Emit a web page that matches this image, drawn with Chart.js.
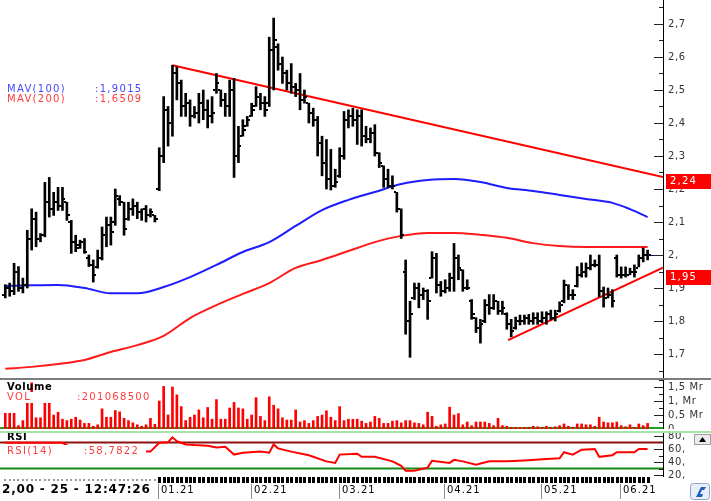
<!DOCTYPE html>
<html>
<head>
<meta charset="utf-8">
<title>Fiyat grafiği</title>
<script src="https://cdn.jsdelivr.net/npm/chart.js@4.4.1/dist/chart.umd.min.js"></script>
<style>
  html, body { margin: 0; padding: 0; background: #fff; }
  #wrap { position: relative; width: 711px; height: 501px; overflow: hidden; background: #fff; }
  #wrap canvas { position: absolute; left: 0; }
  .rule { position: absolute; left: 0; width: 711px; }
</style>
</head>
<body>
<div id="wrap">
  <canvas id="price" width="711" height="378" style="top:0"></canvas>
  <canvas id="volume" width="711" height="49" style="top:380px"></canvas>
  <canvas id="rsi" width="711" height="70" style="top:431px"></canvas>
  <div class="rule" style="top:378px;height:2px;background:#7d7d7d"></div>
  <div class="rule" style="top:431px;height:2px;background:#a8e4a8"></div>
</div>
<script>
// daily bars, index 0 = first bar on the left
const hi = [1.91,1.915,1.975,1.965,1.93,2.075,2.14,2.13,2.065,2.22,
  2.235,2.19,2.205,2.205,2.16,2.105,2.06,2.045,2.05,2.00,
  1.985,2.015,2.085,2.115,2.115,2.20,2.18,2.16,2.16,2.17,
  2.16,2.14,2.15,2.14,2.12,2.325,2.48,2.45,2.575,2.57,
  2.53,2.49,2.47,2.45,2.49,2.50,2.47,2.48,2.55,2.50,
  2.49,2.53,2.535,2.39,2.41,2.42,2.46,2.51,2.49,2.48,
  2.66,2.718,2.64,2.60,2.56,2.58,2.52,2.55,2.50,2.46,
  2.445,2.42,2.36,2.35,2.32,2.26,2.325,2.435,2.44,2.445,
  2.44,2.44,2.39,2.385,2.395,2.31,2.27,2.26,2.24,2.19,
  2.14,1.985,1.86,1.915,1.915,1.90,1.895,2.01,2.005,1.92,
  1.925,1.945,2.035,2.00,1.955,1.925,1.865,1.81,1.805,1.865,
  1.88,1.88,1.86,1.86,1.825,1.805,1.812,1.818,1.818,1.82,
  1.825,1.825,1.828,1.828,1.833,1.833,1.858,1.924,1.91,1.895,
  1.965,1.976,1.976,2.00,1.985,2.00,1.903,1.90,1.895,2.00,
  1.964,1.964,1.96,1.97,2.00,2.021,2.015];
const lo = [1.87,1.875,1.88,1.89,1.885,1.90,2.015,2.025,2.04,2.055,
  2.115,2.12,2.135,2.135,2.105,2.005,2.01,2.02,2.005,1.965,
  1.918,1.96,1.985,2.025,2.03,2.09,2.15,2.06,2.105,2.12,
  2.11,2.105,2.10,2.115,2.10,2.195,2.28,2.33,2.36,2.47,
  2.42,2.42,2.39,2.415,2.40,2.41,2.385,2.40,2.49,2.45,
  2.42,2.42,2.235,2.28,2.36,2.39,2.42,2.45,2.44,2.42,
  2.45,2.50,2.56,2.52,2.50,2.49,2.48,2.44,2.46,2.40,
  2.39,2.30,2.24,2.20,2.197,2.205,2.235,2.29,2.385,2.39,
  2.335,2.33,2.34,2.34,2.30,2.265,2.205,2.205,2.20,2.13,
  2.05,1.76,1.69,1.865,1.84,1.865,1.805,1.93,1.885,1.875,
  1.885,1.89,1.89,1.925,1.89,1.895,1.805,1.765,1.733,1.795,
  1.82,1.835,1.82,1.82,1.775,1.752,1.775,1.788,1.79,1.79,
  1.79,1.79,1.795,1.79,1.803,1.80,1.827,1.855,1.865,1.865,
  1.903,1.933,1.933,1.955,1.964,1.873,1.842,1.87,1.842,1.933,
  1.93,1.933,1.94,1.933,1.964,1.979,1.985];
const op = [1.88,1.90,1.89,1.95,1.90,1.91,2.05,2.11,2.05,2.06,
  2.16,2.14,2.16,2.15,2.16,2.10,2.04,2.03,2.04,1.99,
  1.97,1.965,1.99,2.06,2.09,2.10,2.17,2.16,2.11,2.14,
  2.15,2.13,2.14,2.12,2.12,2.20,2.30,2.44,2.40,2.55,
  2.52,2.45,2.46,2.42,2.43,2.46,2.44,2.42,2.50,2.50,
  2.47,2.45,2.50,2.30,2.36,2.39,2.42,2.45,2.48,2.46,
  2.46,2.62,2.63,2.58,2.55,2.52,2.51,2.50,2.47,2.46,
  2.43,2.41,2.34,2.28,2.23,2.21,2.24,2.30,2.41,2.42,
  2.41,2.42,2.36,2.35,2.37,2.31,2.27,2.23,2.21,2.19,
  2.14,1.95,1.80,1.87,1.90,1.88,1.89,1.93,1.99,1.91,
  1.89,1.90,1.93,1.99,1.955,1.90,1.86,1.81,1.78,1.80,
  1.85,1.84,1.86,1.83,1.82,1.79,1.78,1.80,1.80,1.81,
  1.80,1.81,1.80,1.81,1.82,1.81,1.83,1.86,1.91,1.88,
  1.905,1.94,1.95,1.96,1.97,1.97,1.89,1.87,1.88,1.99,
  1.94,1.94,1.94,1.95,1.96,1.99,2.00];
const cl = [1.90,1.89,1.95,1.90,1.91,2.05,2.11,2.05,2.06,2.16,
  2.14,2.16,2.15,2.17,2.12,2.04,2.02,2.04,2.01,1.97,
  1.94,1.99,2.06,2.09,2.07,2.18,2.16,2.08,2.14,2.15,
  2.13,2.14,2.12,2.13,2.11,2.30,2.44,2.40,2.55,2.52,
  2.45,2.46,2.42,2.43,2.46,2.44,2.42,2.43,2.52,2.47,
  2.45,2.50,2.30,2.33,2.38,2.41,2.44,2.48,2.46,2.44,
  2.62,2.65,2.58,2.55,2.52,2.51,2.50,2.47,2.48,2.43,
  2.41,2.34,2.28,2.23,2.21,2.22,2.30,2.41,2.42,2.41,
  2.42,2.36,2.35,2.37,2.31,2.28,2.23,2.21,2.21,2.14,
  2.06,1.80,1.82,1.90,1.88,1.89,1.86,1.99,1.91,1.89,
  1.90,1.93,1.99,1.96,1.90,1.90,1.82,1.78,1.79,1.85,
  1.84,1.86,1.83,1.84,1.79,1.77,1.80,1.80,1.81,1.80,
  1.81,1.80,1.81,1.82,1.81,1.82,1.85,1.91,1.88,1.88,
  1.94,1.95,1.96,1.97,1.97,1.89,1.87,1.88,1.86,1.94,
  1.94,1.94,1.95,1.95,1.99,2.00,2.00];
// volume in Mr (milyar)
const volume = [0.56,0.56,0.56,0.12,0.3,0.97,1.65,0.4,0.4,0.97,
  0.97,0.5,0.6,0.35,0.3,0.35,0.42,0.32,0.2,0.2,
  0.1,0.15,0.72,0.42,0.42,0.66,0.61,0.38,0.3,0.22,
  0.15,0.1,0.15,0.38,0.17,1.0,1.52,0.5,1.5,1.22,
  0.8,0.3,0.42,0.5,0.68,0.4,0.77,0.35,1.05,0.35,
  0.35,0.75,0.95,0.75,0.72,0.35,0.5,1.12,0.45,0.3,
  1.15,0.85,0.72,0.4,0.32,0.32,0.68,0.25,0.3,0.2,
  0.3,0.45,0.5,0.65,0.42,0.3,0.8,0.3,0.35,0.35,
  0.35,0.28,0.2,0.25,0.45,0.38,0.2,0.2,0.28,0.3,
  0.22,0.3,0.3,0.22,0.2,0.15,0.6,0.45,0.1,0.15,
  0.18,0.78,0.5,0.55,0.15,0.25,0.12,0.25,0.25,0.25,
  0.2,0.12,0.38,0.12,0.1,0.06,0.06,0.06,0.06,0.06,
  0.1,0.08,0.06,0.1,0.06,0.08,0.12,0.18,0.1,0.06,
  0.18,0.18,0.15,0.15,0.1,0.42,0.25,0.22,0.22,0.25,
  0.12,0.08,0.15,0.06,0.18,0.12,0.2];

const maIdx = [0,6,12,18,24,30,36,42,48,54,60,66,72,78,84,90,96,102,108,114,120,126,132,138,142,146];
const mav100 = [1.906,1.908,1.909,1.900,1.884,1.884,1.903,1.933,1.970,2.009,2.039,2.088,2.136,2.167,2.191,2.215,2.227,2.230,2.221,2.203,2.194,2.182,2.170,2.158,2.139,2.115];
const mav200 = [1.655,1.661,1.670,1.682,1.706,1.727,1.755,1.809,1.848,1.882,1.915,1.961,1.985,2.012,2.039,2.058,2.067,2.067,2.061,2.052,2.036,2.027,2.024,2.024,2.024,2.024];

const downTrend = [{x: 38, y: 2.575}, {x: 149.5, y: 2.236}];
const upTrend = [{x: 114.3, y: 1.742}, {x: 149.5, y: 1.962}];
const tagValues = [2.24, 1.95];

const rsiIdx = [0,13,18,20,31,33,35,37,38,39,41,43,46,48,50,52,54,58,60,61,62,65,69,73,75,76,80,81,84,88,90,91,93,96,97,101,102,104,107,110,114,118,123,126,127,129,131,134,135,138,139,143,144,146];
const rsiVals = [69.5,69.5,50.5,50.5,56,56,69.5,70.5,78,72,67,66,65,62.4,63.3,51.4,54.3,56,54.3,67,61,56,50.5,41,38.6,51.4,52.8,48,48,41,34,26.7,26.7,31.4,42,38.6,43.3,41,36,41,41,42.4,44.8,45.7,55,51.4,59,60,48,50.5,55,55,60,60];
const rsiLevels = [70, 30];

const monthStarts = [35, 56, 76, 100, 122, 140];
const monthLabels = ['01.21', '02.21', '03.21', '04.21', '05.21', '06.21'];

const X_MIN = -1.2, X_MAX = 149.5;
Chart.defaults.font.family = 'DejaVu Sans';

function isStep(v, s) { return Math.abs(v / s - Math.round(v / s)) < 1e-6; }
function fmtTr(v) {
  const s = String(Math.round(v * 100) / 100).replace('.', ',');
  return s.indexOf(',') < 0 ? s + ',' : s;
}

function xAxis() {
  return { type: 'linear', min: X_MIN, max: X_MAX, offset: false, display: false };
}
function yAxis(min, max, step, major, fmt) {
  return {
    position: 'right', min: min, max: max, beginAtZero: false,
    grid: { display: false, drawTicks: false, tickLength: 0 },
    border: { display: true, color: '#000', width: 1 },
    ticks: {
      stepSize: step, includeBounds: false, autoSkip: false, padding: 5, color: '#333',
      font: { size: 10 },
      callback: v => isStep(v, major) ? fmt(v) : ''
    },
    afterFit: s => { s.width = 48; s.paddingTop = 0; s.paddingBottom = 0; }
  };
}

function innerTicks(chart, major) {
  const s = chart.scales.y, ctx = chart.ctx, x0 = chart.chartArea.right;
  ctx.save();
  ctx.strokeStyle = '#222';
  ctx.lineWidth = 1;
  s.ticks.forEach(t => {
    const y = Math.round(s.getPixelForValue(t.value)) + 0.5;
    const len = isStep(t.value, major) ? 9 : 4;
    ctx.beginPath();
    ctx.moveTo(x0 - len, y);
    ctx.lineTo(x0, y);
    ctx.stroke();
  });
  ctx.restore();
}

function text(ctx, s, x, y, color, font, spacing) {
  ctx.save();
  ctx.font = font;
  ctx.letterSpacing = spacing || '0px';
  ctx.textBaseline = 'middle';
  ctx.textAlign = 'left';
  ctx.fillStyle = color;
  ctx.fillText(s, x, y);
  ctx.restore();
}

const spacedLabels = {
  id: 'spacedLabels',
  beforeDraw(chart) { chart.ctx.letterSpacing = '0.6px'; },
  afterDraw(chart) { chart.ctx.letterSpacing = '0px'; }
};

const pricePlugin = {
  id: 'priceExtras',
  afterDatasetsDraw(chart) {
    const ctx = chart.ctx, ys = chart.scales.y, xs = chart.scales.x;
    const meta = chart.getDatasetMeta(0);
    ctx.save();
    ctx.fillStyle = '#000';
    meta.data.forEach((bar, i) => {
      const x = Math.round(bar.x);
      const yo = Math.round(ys.getPixelForValue(op[i]));
      const yc = Math.round(ys.getPixelForValue(cl[i]));
      ctx.fillRect(x - 3, yo - 1, 2, 2);
      ctx.fillRect(x + 1, yc - 1, 2, 2);
    });
    // last close marker
    const last = cl.length - 1;
    const yl = Math.round(ys.getPixelForValue(cl[last])) + 0.5;
    ctx.strokeStyle = '#000080';
    ctx.lineWidth = 1;
    ctx.beginPath();
    ctx.moveTo(xs.getPixelForValue(last) + 3, yl);
    ctx.lineTo(chart.chartArea.right, yl);
    ctx.stroke();
    ctx.restore();
  },
  afterDraw(chart) {
    const ctx = chart.ctx, ys = chart.scales.y;
    innerTicks(chart, 0.1);
    tagValues.forEach(v => {
      const y = Math.round(ys.getPixelForValue(v));
      ctx.save();
      ctx.fillStyle = '#ff0000';
      ctx.fillRect(666, y - 2, 45, 15);
      ctx.restore();
      text(ctx, fmtTr(v), 670, y + 5.5, '#fff', '10px "DejaVu Sans"', '1.2px');
    });
    const f = '10px "DejaVu Sans"';
    text(ctx, 'MAV(100)', 7, 89.5, '#4646ff', f, '1.3px');
    text(ctx, ':1,9015', 95, 89.5, '#4646ff', f, '1.3px');
    text(ctx, 'MAV(200)', 7, 99.5, '#ff3c3c', f, '1.3px');
    text(ctx, ':1,6509', 95, 99.5, '#ff3c3c', f, '1.3px');
  }
};

const volumePlugin = {
  id: 'volumeExtras',
  beforeDatasetsDraw(chart) {
    const ctx = chart.ctx, y = chart.scales.y.getPixelForValue(0) - 1;
    ctx.save();
    ctx.strokeStyle = '#22a022';
    ctx.lineWidth = 2;
    ctx.beginPath();
    ctx.moveTo(0, y);
    ctx.lineTo(chart.chartArea.right, y);
    ctx.stroke();
    ctx.restore();
  },
  afterDraw(chart) {
    const ctx = chart.ctx;
    innerTicks(chart, 0.5);
    ctx.save();
    ctx.fillStyle = '#fff';
    ctx.fillRect(5, 12, 152, 11);
    ctx.restore();
    text(ctx, 'Volume', 7, 7.5, '#000', 'bold 10px "DejaVu Sans"', '0.6px');
    text(ctx, 'VOL', 7, 17.5, '#ff3c3c', '10px "DejaVu Sans"', '1.3px');
    text(ctx, ':201068500', 77, 17.5, '#ff3c3c', '10px "DejaVu Sans"', '1.3px');
  }
};

const rsiPlugin = {
  id: 'rsiExtras',
  afterDraw(chart) {
    const ctx = chart.ctx, xs = chart.scales.x;
    innerTicks(chart, 20);
    ctx.save();
    ctx.fillStyle = '#fff';
    ctx.fillRect(5, 14, 141, 12);
    ctx.restore();
    text(ctx, 'RSI', 7, 6.5, '#000', 'bold 10px "DejaVu Sans"', '0.6px');
    text(ctx, 'RSI(14)', 7, 20, '#ff3c3c', '10px "DejaVu Sans"', '1.3px');
    text(ctx, ':58,7822', 84, 20, '#ff3c3c', '10px "DejaVu Sans"', '1.3px');

    // date strip under the panels
    ctx.save();
    cl.forEach((c, i) => {
      const x = Math.round(xs.getPixelForValue(i));
      if (i < monthStarts[0]) {
        ctx.fillStyle = '#9a9a9a';
        ctx.fillRect(x - 1, 48, 2, 2);
      } else {
        ctx.fillStyle = '#000';
        ctx.fillRect(x - 1, 46, 3, 6);
      }
    });
    ctx.strokeStyle = '#8a8a8a';
    ctx.lineWidth = 1;
    monthStarts.forEach((m, k) => {
      const x = Math.round(xs.getPixelForValue(m)) - 0.5;
      ctx.beginPath();
      ctx.moveTo(x, 53);
      ctx.lineTo(x, 68);
      ctx.stroke();
      text(ctx, monthLabels[k], x + 2.5, 59.5, '#000', '10px "DejaVu Sans"', '1px');
    });
    ctx.restore();
    text(ctx, '2,00 - 25 - 12:47:26', 2, 59, '#000', 'bold 12px "DejaVu Sans"', '0.8px');

    // small window controls on the right
    ctx.save();
    ctx.fillStyle = '#ececec';
    ctx.strokeStyle = '#a0a0a0';
    ctx.fillRect(694, 3, 17, 11);
    ctx.strokeRect(694.5, 3.5, 16, 10);
    ctx.fillStyle = '#000';
    ctx.beginPath();
    ctx.moveTo(699, 11); ctx.lineTo(702.5, 6); ctx.lineTo(706, 11); ctx.closePath();
    ctx.fill();
    ctx.fillStyle = '#e9eff9';
    ctx.strokeStyle = '#8fa6cc';
    ctx.beginPath();
    ctx.roundRect(690.5, 52.5, 19, 16, 3);
    ctx.fill(); ctx.stroke();
    ctx.fillStyle = '#1f5fbf';
    ctx.beginPath();
    ctx.moveTo(696, 66); ctx.lineTo(701, 56); ctx.lineTo(706, 56); ctx.lineTo(704, 59);
    ctx.lineTo(702, 59); ctx.lineTo(700, 63); ctx.lineTo(703, 63); ctx.lineTo(702, 66); ctx.closePath();
    ctx.fill();
    ctx.restore();
  }
};

const baseOptions = (yCfg, padding) => ({
  responsive: false,
  animation: false,
  devicePixelRatio: 1,
  layout: { padding: padding },
  plugins: { legend: { display: false }, tooltip: { enabled: false } },
  scales: { x: xAxis(), y: yCfg }
});

new Chart(document.getElementById('price'), {
  type: 'bar',
  data: {
    datasets: [
      { type: 'bar', data: hi.map((h, i) => ({ x: i, y: [lo[i], h] })),
        backgroundColor: '#000', barThickness: 2, borderWidth: 0 },
      { type: 'line', data: maIdx.map((x, k) => ({ x: x, y: mav100[k] })),
        borderColor: '#1c1cff', borderWidth: 2, pointRadius: 0, cubicInterpolationMode: 'monotone' },
      { type: 'line', data: maIdx.map((x, k) => ({ x: x, y: mav200[k] })),
        borderColor: '#ff1a1a', borderWidth: 2, pointRadius: 0, cubicInterpolationMode: 'monotone' },
      { type: 'line', data: downTrend, borderColor: '#ff0000', borderWidth: 2, pointRadius: 0 },
      { type: 'line', data: upTrend, borderColor: '#ff0000', borderWidth: 2, pointRadius: 0 }
    ]
  },
  options: baseOptions(yAxis(1.6273, 2.7727, 0.05, 0.1, fmtTr), 0),
  plugins: [spacedLabels, pricePlugin]
});

new Chart(document.getElementById('volume'), {
  type: 'bar',
  data: {
    datasets: [
      { data: volume.map((v, i) => ({ x: i, y: v })), backgroundColor: '#ff0000', barThickness: 2, borderWidth: 0 }
    ]
  },
  options: baseOptions(yAxis(0, 1.75, 0.25, 0.5, v => Math.abs(v) < 1e-9 ? '0' : fmtTr(v) + ' Mr'), 0),
  plugins: [spacedLabels, volumePlugin]
});

new Chart(document.getElementById('rsi'), {
  type: 'line',
  data: {
    datasets: [
      { data: rsiIdx.map((x, k) => ({ x: x, y: rsiVals[k] })), borderColor: '#ff0000', borderWidth: 2, pointRadius: 0, tension: 0 },
      { data: [{ x: X_MIN, y: rsiLevels[0] }, { x: X_MAX, y: rsiLevels[0] }], borderColor: '#8e1010', borderWidth: 2, pointRadius: 0 },
      { data: [{ x: X_MIN, y: rsiLevels[1] }, { x: X_MAX, y: rsiLevels[1] }], borderColor: '#158a15', borderWidth: 2, pointRadius: 0 }
    ]
  },
  options: baseOptions(yAxis(18.5, 84.6, 10, 20, fmtTr), { top: 2, bottom: 25, left: 0, right: 0 }),
  plugins: [spacedLabels, rsiPlugin]
});
</script>
</body>
</html>
